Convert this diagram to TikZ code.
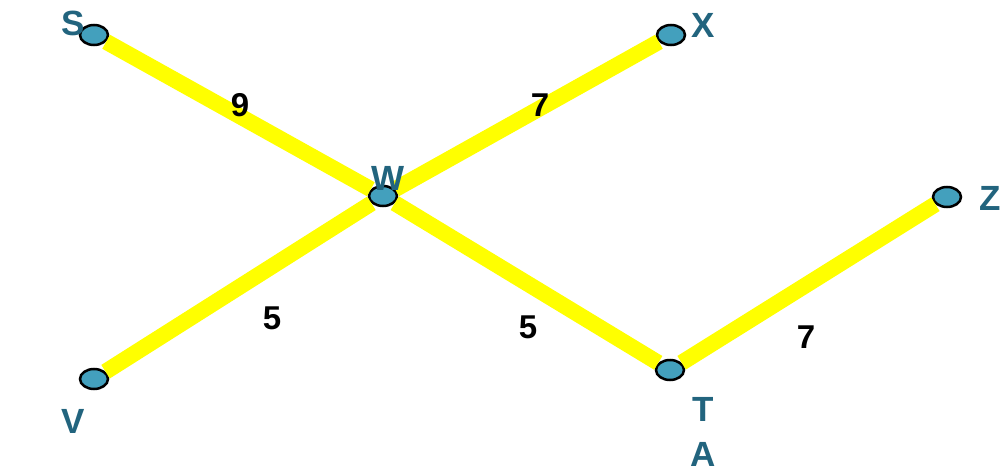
\documentclass[tikz,border=0pt]{standalone}
\usepackage{fontspec}
\setmainfont{Liberation Sans}
\usepackage{xcolor}
\usepackage{tikz}
\usetikzlibrary{shapes.geometric, positioning}
\definecolor{vertexblue}{RGB}{67, 160, 189}
\definecolor{labelteal}{RGB}{34, 100, 126}
\definecolor{edgeyellow}{RGB}{255, 255, 0}

\begin{document}
\begin{tikzpicture}[
    x=1pt, y=-1pt,
    vertex/.style={ellipse, draw=black, line width=2.5pt, fill=vertexblue, minimum width=28pt, minimum height=20pt, inner sep=0pt},
    vlabel/.style={text=labelteal, font=\fontsize{35}{35}\selectfont\bfseries, inner sep=0pt},
    weight/.style={text=black, font=\fontsize{33}{33}\selectfont\bfseries, inner sep=0pt},
    link/.style={edgeyellow, line width=16pt}
]
\useasboundingbox (0,0) rectangle (1005,471);

% Vertices
\node[vertex] (s) at (94,35) {};
\node[vertex] (x) at (671,35) {};
\node[vertex] (w) at (383,196) {};
\node[vertex] (z) at (947,197) {};
\node[vertex] (v) at (94,379) {};
\node[vertex] (t) at (670,370) {};

% Edges
\draw[link] (s) -- (w);
\draw[link] (x) -- (w);
\draw[link] (v) -- (w);
\draw[link] (w) -- (t);
\draw[link] (t) -- (z);

% Weights
\node[weight] (sw) at (240,105) {9};
\node[weight] (xw) at (540,105) {7};
\node[weight] (vw) at (272,318) {5};
\node[weight] (wt) at (528,327) {5};
\node[weight] (tz) at (806,337) {7};

% Vertex labels
\node[vlabel] (slabel) at (73,23) {S};
\node[vlabel] (xlabel) at (703,25) {X};
\node[vlabel] (wlabel) at (388,178) {W};
\node[vlabel] (zlabel) at (990,198) {Z};
\node[vlabel] (vlabel) at (73,421) {V};
\node[vlabel] (tlabel) at (703,409) {T};
\node[vlabel] (alabel) at (703,454) {A};
\end{tikzpicture}
\end{document}
